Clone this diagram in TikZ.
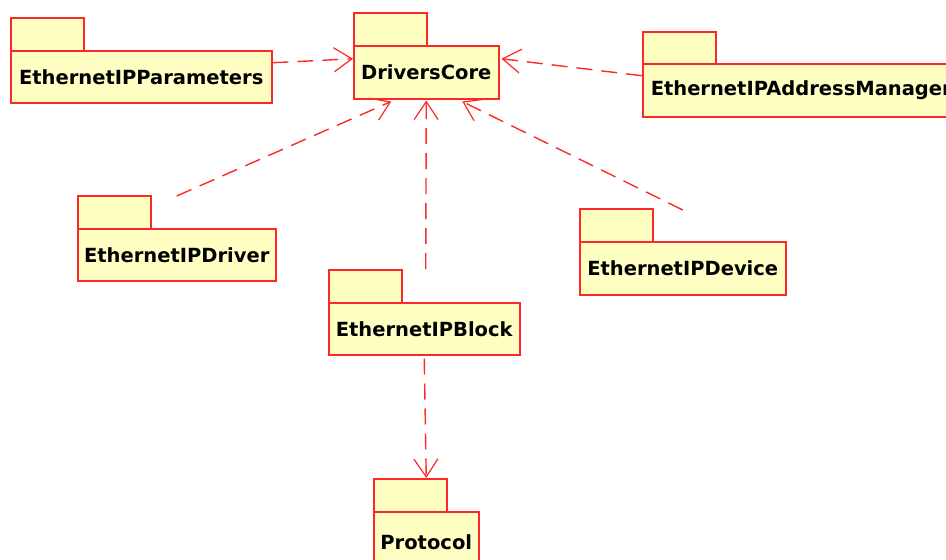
\documentclass[tikz,border=0pt]{standalone}
\usepackage{fontspec}
\newfontfamily\pkfont{DejaVu Sans}
\usetikzlibrary{arrows.meta}
\definecolor{pkred}{RGB}{255,40,40}
\definecolor{pkfill}{RGB}{255,255,196}
\tikzset{
  pkgbody/.style={draw=pkred, fill=pkfill, line width=1.5pt, anchor=north west,
    inner sep=0pt, font=\pkfont\bfseries\fontsize{19.5}{22}\selectfont, text=black},
  pkgtab/.style={draw=pkred, fill=pkfill, line width=1.5pt, anchor=north west,
    inner sep=0pt, minimum width=73pt, minimum height=33pt},
  dep/.style={draw=pkred, line width=1.4pt, dash pattern=on 16pt off 9pt,
    -{Straight Barb[length=18pt,width=24pt,line width=1.2pt]}}
}
% #1 name, #2 x, #3 tab top y, #4 body width, #5 body height, #6 label
\newcommand\pkgdraw[6]{%
  \node[pkgtab] (#1-tab) at (#2,#3) {};
  \node[pkgbody, minimum width=#4pt, minimum height=#5pt] (#1) at (#2,#3+33) {#6};
}
\begin{document}
\begin{tikzpicture}[x=1pt,y=-1pt]
\useasboundingbox (0,0) rectangle (946,560);
\begin{scope}
\clip (0,0) rectangle (946,560);
\pkgdraw{params}{10}{17}{261}{52}{EthernetIPParameters}
\pkgdraw{core}{353}{12}{145}{53}{DriversCore}
\node[pkgtab] (addr-tab) at (642,31) {};
\node[pkgbody, minimum width=330pt, minimum height=53pt, text width=314pt, align=left] (addr) at (642,63) {EthernetIPAddressManager};
\pkgdraw{driver}{77}{195}{198}{52}{EthernetIPDriver}
\pkgdraw{device}{579}{208}{206}{53}{EthernetIPDevice}
\pkgdraw{block}{328}{269}{191}{52}{EthernetIPBlock}
\pkgdraw{protocol}{373}{478}{105}{60}{Protocol}
\end{scope}
\draw[dep] ([yshift=14pt]params.east) -- ([yshift=13.5pt]core.west);
\draw[dep] ([yshift=14.5pt]addr.west) -- ([xshift=2pt,yshift=13.5pt]core.east);
\draw[dep] ([yshift=32pt]driver.north) -- ([xshift=-35pt,yshift=-2pt]core.south);
\draw[dep] ([xshift=1.5pt,yshift=33pt]block.north) -- ([yshift=-1pt]core.south);
\draw[dep] ([yshift=31pt]device.north) -- ([xshift=36pt,yshift=-2pt]core.south);
\draw[dep] ([yshift=-3pt]block.south) -- ([xshift=16pt]protocol-tab.north);
\end{tikzpicture}
\end{document}
